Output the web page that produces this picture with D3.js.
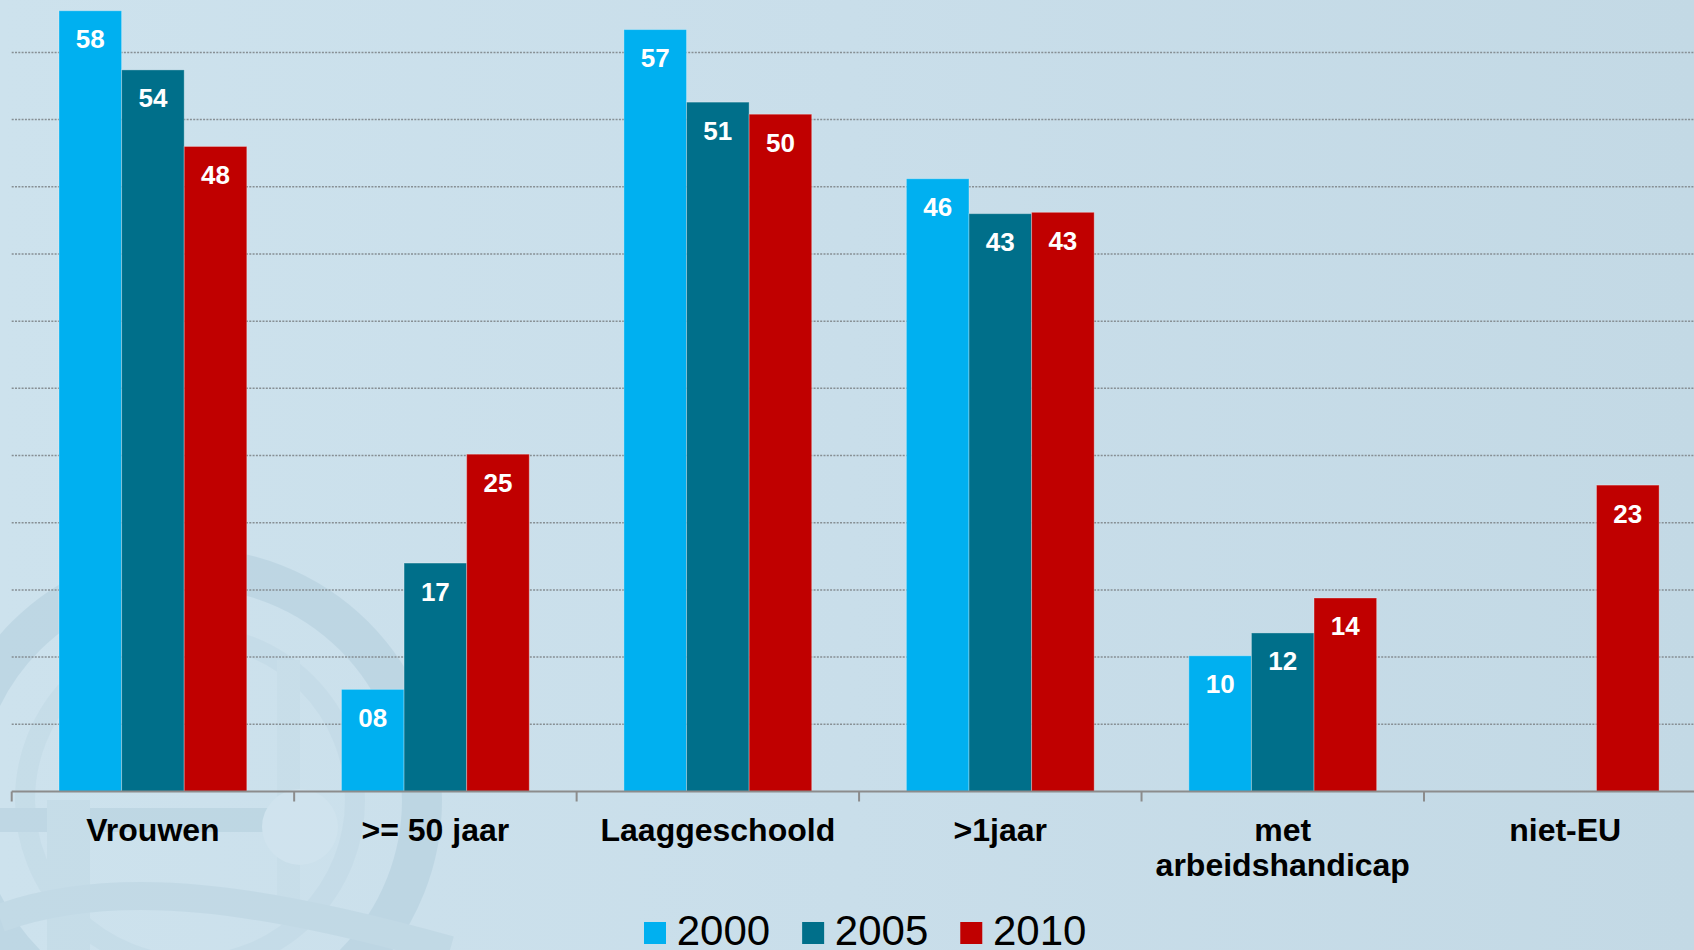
<!DOCTYPE html>
<html>
<head>
<meta charset="utf-8">
<script src="https://cdn.jsdelivr.net/npm/d3@7"></script>
<style>
  html,body{margin:0;padding:0;overflow:hidden;}
  svg{display:block;}
</style>
</head>
<body>
<svg id="chart" width="1694" height="950"></svg>
<script>
// data
var categories = ["Vrouwen", ">= 50 jaar", "Laaggeschoold", ">1jaar", "met\narbeidshandicap", "niet-EU"];
var seriesNames = ["2000", "2005", "2010"];
var values2000 = [58.1, 7.6, 56.7, 45.6, 10.1, null];
var values2005 = [53.7, 17.0, 51.3, 43.0, 11.8, null];
var values2010 = [48.0, 25.1, 50.4, 43.1, 14.4, 22.8];
var gridValues = [5, 10, 15, 20, 25, 30, 35, 40, 45, 50, 55];
var seriesColours = ["#00b0f0", "#006f8a", "#c00000"];

var seriesValues = [values2000, values2005, values2010];
var data = categories.map(function(c, i){
    return {name: c, values: seriesNames.map(function(s, j){ return {series: s, value: seriesValues[j][i]}; })};
});

var w = 1694, h = 950;
var svg = d3.select("#chart");

// background + faint watermark
var defs = svg.append("defs");
var grad = defs.append("linearGradient").attr("id", "bg").attr("x1", 0).attr("x2", 1).attr("y1", 0).attr("y2", 0);
grad.append("stop").attr("offset", 0).attr("stop-color", "#cde2ed");
grad.append("stop").attr("offset", 0.5).attr("stop-color", "#c9deea");
grad.append("stop").attr("offset", 1).attr("stop-color", "#c3d9e5");
svg.append("rect").attr("width", w).attr("height", h).attr("fill", "url(#bg)");

var mark = svg.append("g").attr("opacity", 0.4);
mark.append("circle").attr("cx", 190).attr("cy", 800).attr("r", 232)
    .attr("fill", "none").attr("stroke", "#aac8d8").attr("stroke-width", 40);
mark.append("circle").attr("cx", 190).attr("cy", 800).attr("r", 165)
    .attr("fill", "none").attr("stroke", "#bdd6e3").attr("stroke-width", 20);
mark.append("rect").attr("x", 0).attr("y", 808).attr("width", 280).attr("height", 24).attr("fill", "#abc9d8");
mark.append("rect").attr("x", 47).attr("y", 800).attr("width", 43).attr("height", 150).attr("fill", "#bcd6e3");
mark.append("rect").attr("x", 277).attr("y", 660).attr("width", 23).attr("height", 240).attr("fill", "#c3dae6");
mark.append("circle").attr("cx", 300).attr("cy", 827).attr("r", 38).attr("fill", "#d6e8f1");
mark.append("path").attr("d", "M0,918 C120,875 270,900 450,950").attr("fill", "none")
    .attr("stroke", "#b4cfdd").attr("stroke-width", 28);

var margin = {left: 11.7, top: 0, bottom: 158.5};
var baseY = h - margin.bottom;

var x0 = d3.scaleBand()
    .domain(categories)
    .range([margin.left, margin.left + 6 * 282.46])
    .padding(0);

var x1 = d3.scaleBand()
    .domain(seriesNames)
    .range([47.3, 47.3 + 3 * 62.6])
    .padding(0);

var yScale = d3.scaleLinear()
    .domain([0, 58.9])
    .range([baseY, margin.top]);

var colours = d3.scaleOrdinal().domain(seriesNames).range(seriesColours);

// dotted gridlines
svg.append("g").selectAll("line")
    .data(gridValues)
    .enter()
    .append("line")
    .attr("x1", margin.left)
    .attr("x2", w)
    .attr("y1", d => yScale(d))
    .attr("y2", d => yScale(d))
    .attr("stroke", "#878f94")
    .attr("stroke-width", 1.5)
    .attr("stroke-dasharray", "2,1.3");

// bars
var groups = svg.append("g").selectAll("g")
    .data(data)
    .enter()
    .append("g")
    .attr("transform", d => "translate(" + x0(d.name) + ",0)");

var bars = groups.selectAll("g")
    .data(d => d.values.filter(v => v.value != null))
    .enter()
    .append("g");

bars.append("rect")
    .attr("x", d => x1(d.series))
    .attr("y", d => yScale(d.value))
    .attr("width", x1.bandwidth())
    .attr("height", d => baseY - yScale(d.value))
    .attr("fill", d => colours(d.series))
    .attr("stroke", "rgba(255,255,255,0.3)")
    .attr("stroke-width", 1);

var formatLabel = d3.format("02.0f");
bars.append("text")
    .attr("x", d => x1(d.series) + x1.bandwidth() / 2)
    .attr("y", d => yScale(d.value) + 37.5)
    .attr("text-anchor", "middle")
    .attr("fill", "#ffffff")
    .style("font-family", "'Liberation Sans', Arial, sans-serif")
    .style("font-weight", "bold")
    .style("font-size", "26px")
    .text(d => formatLabel(d.value));

// x axis: line with ticks on the band edges
var axis = svg.append("g");
axis.append("line")
    .attr("x1", margin.left).attr("x2", w)
    .attr("y1", baseY).attr("y2", baseY)
    .attr("stroke", "#8c8c8c").attr("stroke-width", 2);
axis.selectAll(".tick")
    .data(categories)
    .enter()
    .append("line")
    .attr("class", "tick")
    .attr("x1", d => x0(d)).attr("x2", d => x0(d))
    .attr("y1", baseY).attr("y2", baseY + 10)
    .attr("stroke", "#8c8c8c").attr("stroke-width", 2);

var catLabels = axis.selectAll(".cat")
    .data(categories)
    .enter()
    .append("text")
    .attr("class", "cat")
    .attr("text-anchor", "middle")
    .attr("fill", "#000")
    .style("font-family", "'Liberation Sans', Arial, sans-serif")
    .style("font-weight", "bold")
    .style("font-size", "32px");

catLabels.each(function(d){
    var lines = d.split("\n");
    var t = d3.select(this);
    lines.forEach(function(l, i){
        t.append("tspan")
            .attr("x", x0(d) + x0.bandwidth() / 2)
            .attr("y", baseY + 49.5 + i * 35)
            .text(l);
    });
});

// legend
var legend = svg.append("g").attr("transform", "translate(644,0)");
var lx = 0;
seriesNames.forEach(function(s){
    var item = legend.append("g").attr("transform", "translate(" + lx + ",0)");
    item.append("rect")
        .attr("x", 0).attr("y", 922)
        .attr("width", 22).attr("height", 22)
        .attr("fill", colours(s));
    var t = item.append("text")
        .attr("x", 32.7).attr("y", 945)
        .attr("fill", "#000")
        .style("font-family", "'Liberation Sans', Arial, sans-serif")
        .style("font-size", "42px")
        .text(s);
    lx += 32.7 + t.node().getBBox().width + 32;
});
</script>
</body>
</html>
